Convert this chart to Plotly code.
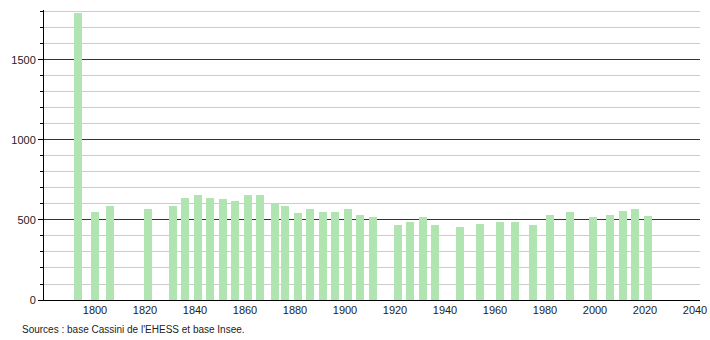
import plotly.graph_objects as go

years = [1793, 1800, 1806, 1821, 1831, 1836, 1841, 1846, 1851, 1856, 1861, 1866,
         1872, 1876, 1881, 1886, 1891, 1896, 1901, 1906, 1911, 1921, 1926, 1931,
         1936, 1946, 1954, 1962, 1968, 1975, 1982, 1990, 1999, 2006, 2011, 2016, 2021]
population = [1795, 552, 587, 569, 587, 635, 656, 640, 629, 617, 656, 656,
              600, 587, 542, 567, 552, 552, 567, 531, 517, 469, 487, 517,
              469, 454, 475, 487, 487, 469, 531, 552, 517, 531, 558, 567, 525]
x_ticks = [1800, 1820, 1840, 1860, 1880, 1900, 1920, 1940, 1960, 1980, 2000, 2020, 2040]
y_ticks = [0, 500, 1000, 1500]
source_text = "Sources : base Cassini de l'EHESS et base Insee."

fig = go.Figure()
fig.add_trace(go.Bar(
    x=years, y=population, width=3.2,
    marker=dict(color="rgb(176,228,176)", line=dict(width=0)),
    hoverinfo="x+y",
))

fig.update_layout(
    width=710, height=340,
    margin=dict(l=44, r=10, t=10, b=40, autoexpand=False),
    paper_bgcolor="white", plot_bgcolor="white",
    font=dict(family="Liberation Sans, Arial, sans-serif", size=11, color="#222"),
    showlegend=False,
    bargap=0,
    xaxis=dict(
        range=[1779.6, 2042], tickvals=x_ticks, ticktext=[str(v) for v in x_ticks],
        showgrid=False, zeroline=False, showline=True, linecolor="black", linewidth=1,
        ticks="", tickfont=dict(size=11, color="#222"), automargin=False,
    ),
    yaxis=dict(
        range=[0, 1812], tickvals=y_ticks, ticktext=[str(v) for v in y_ticks],
        showgrid=True, gridcolor="#333", gridwidth=1,
        zeroline=False, showline=True, linecolor="black", linewidth=1,
        ticks="outside", ticklen=5, tickcolor="black", tickwidth=1,
        tickfont=dict(size=11, color="#222"), automargin=False,
        minor=dict(dtick=100, tick0=0, showgrid=True, gridcolor="#cccccc", gridwidth=1,
                   ticks="outside", ticklen=3, tickcolor="black"),
        layer="below traces",
    ),
    annotations=[dict(
        text=source_text, xref="paper", yref="paper",
        x=-24 / 656, y=(300 - 329) / 290, xanchor="left", yanchor="middle",
        showarrow=False, font=dict(size=10, color="#222"),
    )],
)

fig.write_html("out.html")
